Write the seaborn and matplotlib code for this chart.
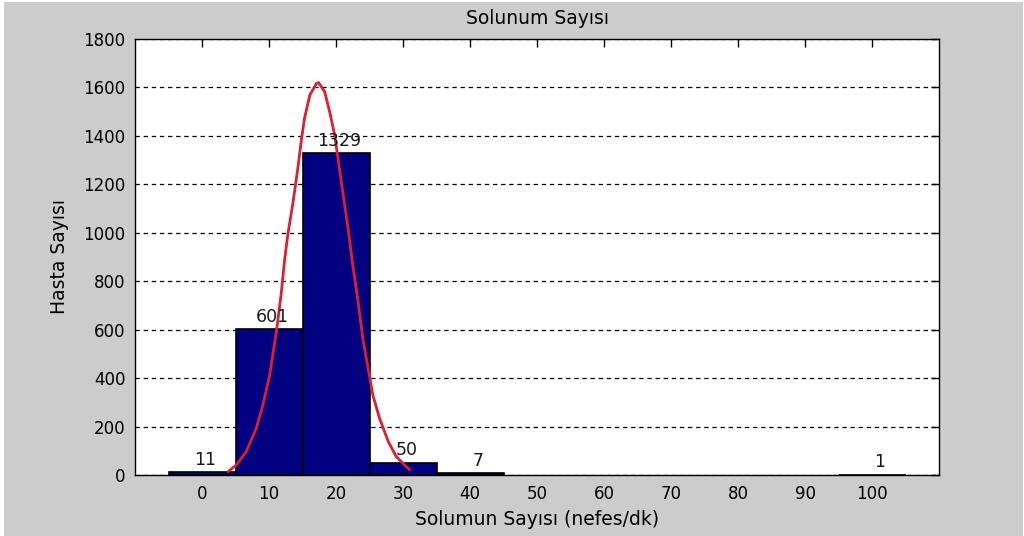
import pandas as pd
import matplotlib
matplotlib.use("Agg")
import matplotlib.pyplot as plt
from matplotlib.patches import Rectangle
import seaborn as sns

# Histogram of respiration rates (bin centres, counts per bin)
bin_centers = [0, 10, 20, 30, 40, 50, 60, 70, 80, 90, 100]
counts = [11, 601, 1329, 50, 7, 0, 0, 0, 0, 0, 1]

# Fitted distribution curve (x, patients)
fit_x = [3.9, 5.1, 6.6, 8.1, 9.1, 10.1, 11.1, 11.8, 12.3, 12.8, 13.6, 14.3, 14.8,
         15.3, 16.1, 17.1, 17.4, 18.3, 19.05, 19.8, 20.3, 21.0, 21.8, 22.5, 23.3,
         24.0, 24.8, 25.5, 26.5, 27.8, 29.0, 30.5, 31.0]
fit_y = [14, 41, 96, 193, 289, 413, 592, 743, 881, 991, 1128, 1266, 1376,
         1473, 1569, 1617, 1620, 1583, 1500, 1404, 1307, 1170, 1018, 867, 715,
         564, 440, 330, 234, 138, 76, 34, 22]

y_ticks = [0, 200, 400, 600, 800, 1000, 1200, 1400, 1600, 1800]
x_ticks = [0, 10, 20, 30, 40, 50, 60, 70, 80, 90, 100]

hist_df = pd.DataFrame({"center": bin_centers, "count": counts})
fit_df = pd.DataFrame({"x": fit_x, "y": fit_y})

sns.set_style("white")
plt.rcParams["font.family"] = ["DejaVu Sans"]
plt.rcParams["text.color"] = "black"
plt.rcParams["axes.labelcolor"] = "black"

fig = plt.figure(figsize=(10.24, 5.36), dpi=100, facecolor="#cccccc")
# thin light border along the window edges
for rect in [(0, 0, 4 / 1024, 1), (0, 1 - 2 / 536, 1, 2 / 536), (1 - 1 / 1024, 0, 1 / 1024, 1)]:
    fig.add_artist(Rectangle(rect[:2], rect[2], rect[3], transform=fig.transFigure,
                             facecolor="white", edgecolor="none"))
ax = fig.add_axes([135 / 1024, 61 / 536, 804 / 1024, 436 / 536])
ax.set_facecolor("white")

sns.histplot(data=hist_df, x="center", weights="count", bins=11, binrange=(-5, 105),
             color="#000080", edgecolor="black", linewidth=1.2, alpha=1, ax=ax)
for p in ax.patches:
    p.set_zorder(2.6)
    if p.get_height() == 0:
        p.set_visible(False)

sns.lineplot(data=fit_df, x="x", y="y", color="#dc2030", linewidth=2, ax=ax, sort=False)
for ln in ax.lines:
    ln.set_zorder(3)

for xc, c in zip(bin_centers, counts):
    if c > 0:
        ax.text(xc + (1.2 if c < 10 else 0.5), c + 14, str(c), ha="center", va="bottom",
                fontsize=12.5, color="#1a1a1a", zorder=4)

ax.set_xlim(-10, 110)
ax.set_ylim(0, 1800)
ax.set_xticks(x_ticks)
ax.set_yticks(y_ticks)
ax.yaxis.grid(True, linestyle=(0, (3.5, 3)), color="black", linewidth=0.9)
ax.xaxis.grid(False)
for line in ax.get_ygridlines():
    line.set_zorder(0.5)

ax.tick_params(direction="in", length=6, width=1, top=True, right=True,
               labelsize=12, colors="black", pad=7)
for s in ax.spines.values():
    s.set_color("black")
    s.set_linewidth(1)

ax.set_title("Solunum Sayısı", fontsize=13.5, pad=11, color="black")
ax.set_xlabel("Solumun Sayısı (nefes/dk)", fontsize=13.5, labelpad=5)
ax.set_ylabel("Hasta Sayısı", fontsize=13.5, labelpad=10)

fig.savefig("out.png", dpi=100, facecolor=fig.get_facecolor())
